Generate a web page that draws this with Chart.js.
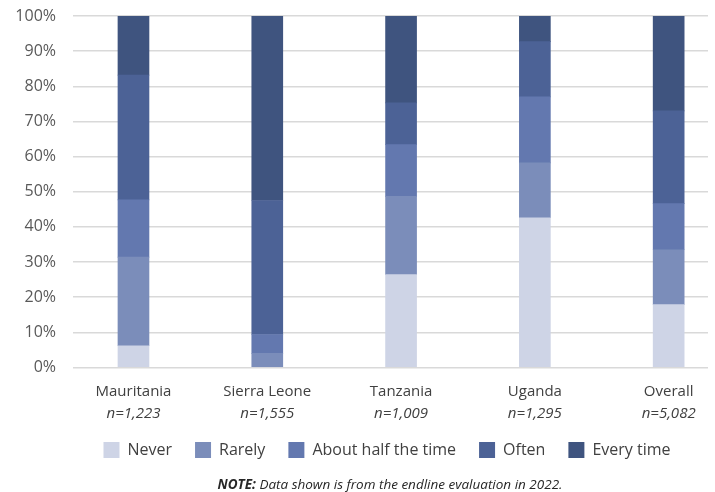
<!DOCTYPE html>
<html>
<head>
<meta charset="utf-8">
<script src="https://cdn.jsdelivr.net/npm/chart.js@4/dist/chart.umd.min.js"></script>
<style>
  html, body { margin: 0; padding: 0; background: #fff; }
  #wrap { position: relative; width: 715px; height: 492px; }
  #note { position: absolute; left: 0; width: 780px; top: 475px; text-align: center;
          font-family: "Open Sans", sans-serif; font-style: italic; font-size: 13.5px; color: #262626;
          line-height: 18px; }
</style>
</head>
<body>
<div id="wrap">
  <canvas id="c" width="715" height="492"></canvas>
  <div id="note"><b>NOTE:</b> Data shown is from the endline evaluation in 2022.</div>
</div>
<script>
const categories = ["Mauritania", "Sierra Leone", "Tanzania", "Uganda", "Overall"];
const sampleSizes = ["n=1,223", "n=1,555", "n=1,009", "n=1,295", "n=5,082"];
const never        = [6.2, 0.0, 26.4, 42.6, 17.9];
const rarely       = [25.2, 4.0, 22.3, 15.6, 15.6];
const aboutHalf    = [16.3, 5.4, 14.7, 18.8, 13.1];
const often        = [35.5, 38.1, 11.9, 15.7, 26.4];
const everyTime    = [16.8, 52.5, 24.7, 7.3, 27.0];
const yTicks = [0, 10, 20, 30, 40, 50, 60, 70, 80, 90, 100];

const seriesNames = ["Never", "Rarely", "About half the time", "Often", "Every time"];
const seriesValues = [never, rarely, aboutHalf, often, everyTime];
const seriesColors = ["#CED4E6", "#7B8DBA", "#6378AF", "#4C6296", "#3F547F"];

const FONT = "'Open Sans', sans-serif";

const datasets = seriesNames.map((name, i) => ({
  label: name,
  data: seriesValues[i].map((v, j) => ({ x: j, y: v })),
  backgroundColor: seriesColors[i],
  borderWidth: 0,
  barThickness: 31
}));

const idxTicks = (scale) => { scale.ticks = categories.map((_, i) => ({ value: i })); };

// Legend in the reference sits a little right of centre and tight under the axis labels
const legendShift = {
  id: "legendShift",
  afterLayout(chart) {
    const lg = chart.legend;
    if (lg) { lg.left += 33; lg.right += 33; lg.top -= 6.5; lg.bottom -= 6.5; }
  }
};

new Chart(document.getElementById("c"), {
  type: "bar",
  data: { datasets },
  plugins: [legendShift],
  options: {
    responsive: false,
    animation: false,
    layout: { padding: { top: 16, right: 7, left: 0, bottom: 17.5 } },
    plugins: {
      tooltip: { enabled: false },
      legend: {
        position: "bottom",
        labels: {
          boxWidth: 16, boxHeight: 16, padding: 23,
          color: "#404040",
          font: { family: FONT, size: 16 }
        }
      }
    },
    scales: {
      x: {
        type: "linear", position: "bottom", stacked: true, offset: false,
        min: -0.452, max: 4.294,
        afterBuildTicks: idxTicks,
        afterFit: (s) => { s.height = 37; s.paddingLeft = 0; s.paddingRight = 0; },
        grid: { display: false, drawTicks: false, offset: false }, border: { display: false },
        ticks: {
          autoSkip: false, maxRotation: 0, padding: 15,
          color: "#404040", font: { family: FONT, size: 15 },
          callback: (v) => categories[v]
        }
      },
      x2: {
        type: "linear", position: "bottom", stacked: true, offset: false,
        min: -0.452, max: 4.294,
        afterBuildTicks: idxTicks,
        afterFit: (s) => { s.height = 21; s.paddingLeft = 0; s.paddingRight = 0; },
        grid: { display: false, drawTicks: false, offset: false }, border: { display: false },
        ticks: {
          autoSkip: false, maxRotation: 0, padding: 0,
          color: "#404040", font: { family: FONT, size: 15, style: "italic" },
          callback: (v) => sampleSizes[v]
        }
      },
      y: {
        stacked: true, min: 0, max: 100,
        afterBuildTicks: (s) => { s.ticks = yTicks.map(v => ({ value: v })); },
        afterFit: (s) => { s.width = 73; s.paddingTop = 0; s.paddingBottom = 0; },
        grid: { color: "#D9D9D9", lineWidth: 1.5, drawTicks: false },
        border: { display: false },
        ticks: {
          padding: 17, color: "#595959",
          font: { family: FONT, size: 16 },
          callback: (v) => v + "%"
        }
      }
    }
  }
});
</script>
</body>
</html>
